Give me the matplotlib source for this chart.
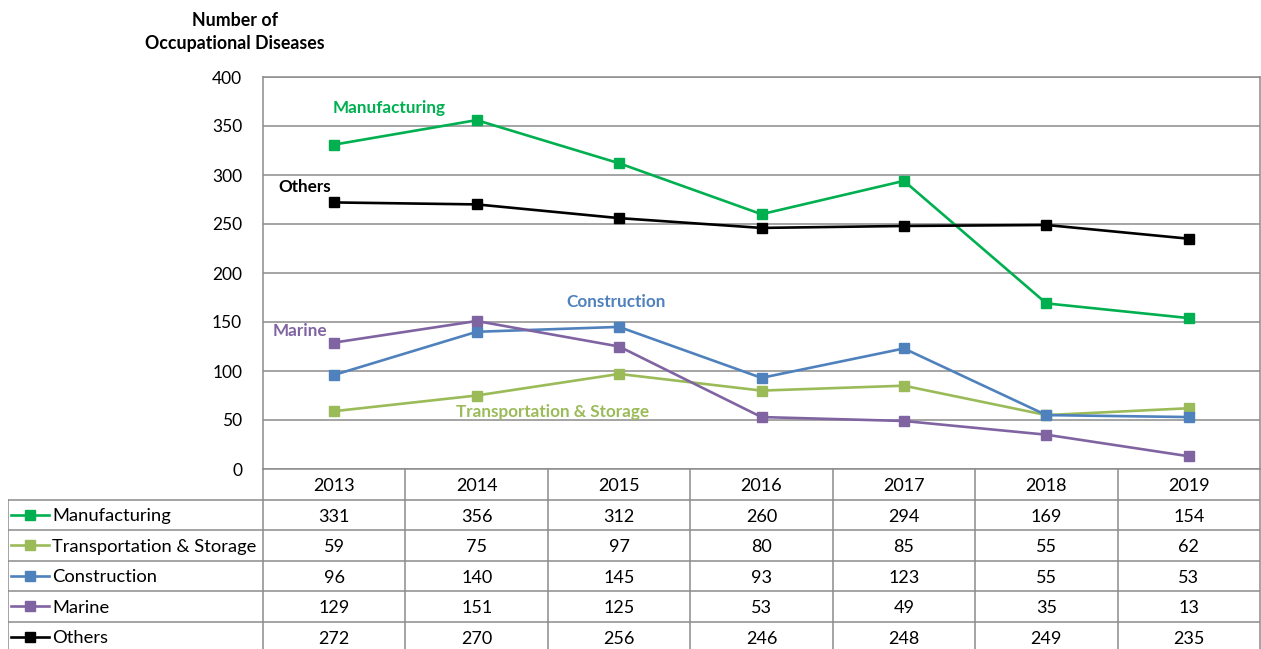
import matplotlib
matplotlib.use("Agg")
import matplotlib.pyplot as plt

years = ["2013", "2014", "2015", "2016", "2017", "2018", "2019"]
series_names = ["Manufacturing", "Transportation & Storage", "Construction", "Marine", "Others"]
manufacturing = [331, 356, 312, 260, 294, 169, 154]
transportation = [59, 75, 97, 80, 85, 55, 62]
construction = [96, 140, 145, 93, 123, 55, 53]
marine = [129, 151, 125, 53, 49, 35, 13]
others = [272, 270, 256, 246, 248, 249, 235]
series_values = [manufacturing, transportation, construction, marine, others]
colors = ["#00B050", "#9BBB59", "#4F81BD", "#8064A2", "#000000"]
yticks = [0, 50, 100, 150, 200, 250, 300, 350, 400]

plt.rcParams['font.family'] = ['Lato', 'DejaVu Sans']
GRID = "#8c8c8c"

W, H = 1261, 649
fig = plt.figure(figsize=(W / 100, H / 100), dpi=100)

# plot axes
ax = fig.add_axes([263 / W, (H - 469) / H, 997 / W, 392 / H])
x = [i + 0.5 for i in range(len(years))]
for vals, c in zip(series_values, colors):
    ax.plot(x, vals, color=c, lw=1.9, marker="s", ms=6.5, zorder=3)
ax.set_xlim(0, len(years))
ax.set_ylim(0, 400)
ax.set_yticks(yticks)
ax.set_yticklabels([str(t) for t in yticks], fontsize=12.5)
ax.tick_params(axis="y", length=0, pad=15)
ax.set_xticks([])
ax.grid(axis="y", color=GRID, lw=1.1)
for s in ax.spines.values():
    s.set_color(GRID)
    s.set_linewidth(1.1)

# series labels
label_pos = [(0.49, 368), (1.355, 58), (2.13, 170), (0.07, 141), (0.105, 288)]
for name, c, (lx, ly) in zip(series_names, colors, label_pos):
    ax.text(lx, ly, name, color=c, fontsize=12.3, fontweight="bold", ha="left", va="center")

fig.text(235 / W, 1 - 32 / H, "Number of\nOccupational Diseases", ha="center", va="center",
         fontsize=12.8, fontweight="bold", linespacing=1.45)

# table axes
tx0 = 8
label_w = (263 - tx0) / (997 / 7)
tab = fig.add_axes([tx0 / W, 0, (1260 - tx0) / W, 180 / H])
nrows_vis = 180 / 30.5
tab.set_xlim(-label_w, len(years))
tab.set_ylim(nrows_vis, 0)
tab.axis("off")
for i in range(len(years) + 1):
    tab.plot([i, i], [0, nrows_vis], color=GRID, lw=1.1, clip_on=False)
tab.plot([-label_w, -label_w], [1, nrows_vis], color=GRID, lw=1.1)
for r in range(1, len(series_names) + 1):
    tab.plot([-label_w, len(years)], [r, r], color=GRID, lw=1.1)
for i, y in enumerate(years):
    tab.text(i + 0.5, 0.56, y, ha="center", va="center", fontsize=13)
for r, (name, vals, c) in enumerate(zip(series_names, series_values, colors), start=1):
    yy = r + 0.5
    tab.plot([-label_w + 0.02, -label_w + 0.29], [yy, yy], color=c, lw=1.9)
    tab.plot([-label_w + 0.155], [yy], color=c, marker="s", ms=6.5)
    tab.text(-label_w + 0.31, yy + 0.05, name, ha="left", va="center", fontsize=13.2)
    for i, v in enumerate(vals):
        tab.text(i + 0.5, yy + 0.06, str(v), ha="center", va="center", fontsize=13)

fig.savefig("out.png", dpi=100)
